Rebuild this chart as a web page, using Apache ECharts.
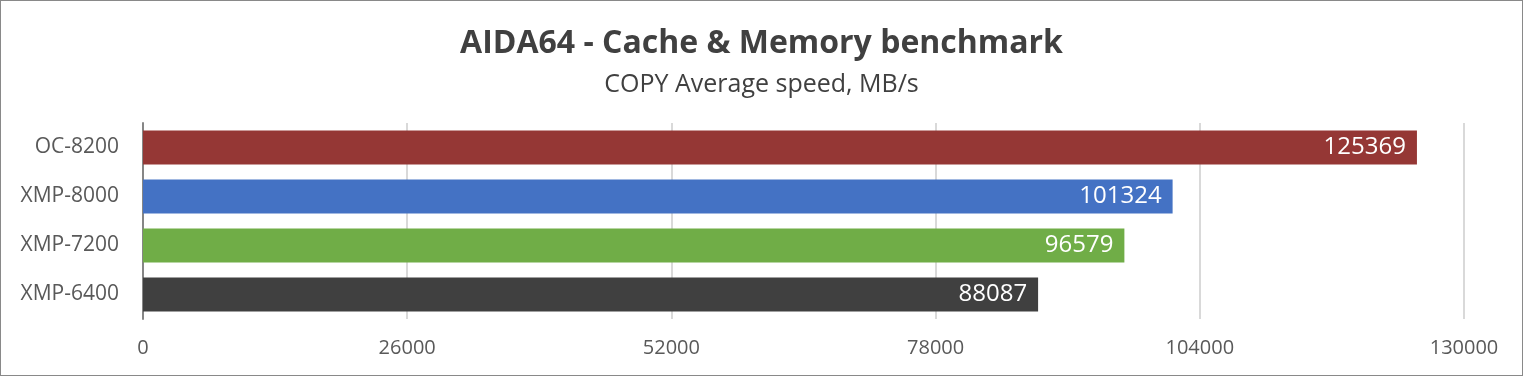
<!DOCTYPE html>
<html><head><meta charset="utf-8">
<script src="https://cdn.jsdelivr.net/npm/echarts@6/dist/echarts.min.js"></script>
<style>html,body{margin:0;padding:0;background:#fff}#c{width:1523px;height:376px;box-sizing:border-box;border:1px solid #898989}</style>
</head><body><div id="c"></div>
<script>
const categories = ['OC-8200', 'XMP-8000', 'XMP-7200', 'XMP-6400'];
const values = [125369, 101324, 96579, 88087];
const barColors = ['#953735', '#4472C4', '#70AD47', '#404040'];
const axisMin = 0, axisMax = 130000, axisStep = 26000;
const titleText = 'AIDA64 - Cache & Memory benchmark';
const subtitleText = 'COPY Average speed, MB/s';

const font = '"Open Sans", "Noto Sans", sans-serif';
const chart = echarts.init(document.getElementById('c'));
chart.setOption({
  animation: false,
  title: {
    text: titleText, subtext: subtitleText, left: 'center', top: 22, itemGap: 12,
    textStyle: {fontFamily: font, fontSize: 32, fontWeight: 'bold', color: '#404040'},
    subtextStyle: {fontFamily: font, fontSize: 25, color: '#404040'}
  },
  grid: {left: 142, right: 58, top: 122, bottom: 56, containLabel: false},
  xAxis: {
    type: 'value', min: axisMin, max: axisMax, interval: axisStep,
    axisLine: {show: false}, axisTick: {show: false},
    splitLine: {lineStyle: {color: '#D9D9D9', width: 2}},
    axisLabel: {fontFamily: font, fontSize: 20, color: '#595959', margin: 19, formatter: v => String(v)}
  },
  yAxis: {
    type: 'category', data: categories, inverse: true,
    axisLine: {show: true, lineStyle: {color: '#868686', width: 2}},
    axisTick: {show: false},
    axisLabel: {fontFamily: font, fontSize: 21, color: '#595959', margin: 24}
  },
  series: [{
    type: 'bar', barCategoryGap: '31%',
    data: values.map((v, i) => ({value: v, itemStyle: {color: barColors[i]}})),
    label: {show: true, position: 'insideRight', distance: 11, color: '#fff', fontFamily: font, fontSize: 24}
  }]
});
</script></body></html>
